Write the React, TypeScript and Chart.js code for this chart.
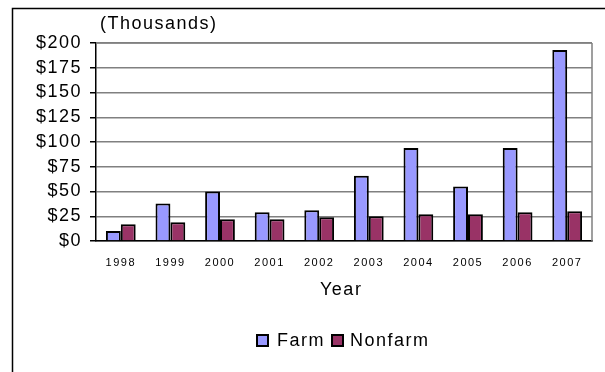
import React, { useEffect, useRef } from "react";
import { Chart, registerables } from "chart.js";

Chart.register(...registerables);

const years = ["1998", "1999", "2000", "2001", "2002", "2003", "2004", "2005", "2006", "2007"];
const farm = [10, 38, 50, 29, 31, 66, 94, 55, 94, 193];
const nonfarm = [17, 19, 22, 22, 24, 25, 27, 27, 29, 30];
const seriesNames = ["Farm", "Nonfarm"];
const seriesColors = ["#9999FF", "#993366"];
const yTicks = [0, 25, 50, 75, 100, 125, 150, 175, 200];
const unitLabel = "(Thousands)";
const xTitle = "Year";

const FONT = "'Liberation Sans', Arial, sans-serif";
const SPACING = "1.5px";

export default function App() {
  const ref = useRef<HTMLCanvasElement | null>(null);

  useEffect(() => {
    const canvas = ref.current!;
    const decor = {
      id: "decor",
      beforeDraw(chart: any) {
        chart.ctx.letterSpacing = SPACING;
      },
      beforeDatasetsDraw(chart: any) {
        const { ctx, chartArea } = chart;
        ctx.save();
        ctx.strokeStyle = "#808080";
        ctx.lineWidth = 1.5;
        ctx.beginPath();
        ctx.moveTo(chartArea.right, chartArea.top);
        ctx.lineTo(chartArea.right, chartArea.bottom);
        ctx.moveTo(chartArea.left, chartArea.top);
        ctx.lineTo(chartArea.right, chartArea.top);
        ctx.stroke();
        ctx.restore();
      },
      afterDraw(chart: any) {
        const ctx = chart.ctx;
        ctx.save();
        ctx.letterSpacing = SPACING;
        ctx.strokeStyle = "#000";
        ctx.lineWidth = 1.5;
        ctx.beginPath();
        ctx.moveTo(12.5, 372);
        ctx.lineTo(12.5, 8.5);
        ctx.lineTo(605, 8.5);
        ctx.stroke();
        ctx.fillStyle = "#000";
        ctx.textBaseline = "middle";
        ctx.textAlign = "left";
        ctx.font = `18px ${FONT}`;
        ctx.fillText(unitLabel, 100, 24);
        ctx.fillText(xTitle, 320, 290);
        const items = [
          { x: 257, tx: 277 },
          { x: 332, tx: 350 },
        ];
        items.forEach((it, i) => {
          ctx.fillStyle = seriesColors[i];
          ctx.fillRect(it.x, 335, 11, 11);
          ctx.strokeStyle = "#000";
          ctx.lineWidth = 2;
          ctx.strokeRect(it.x, 335, 11, 11);
          ctx.fillStyle = "#000";
          ctx.fillText(seriesNames[i], it.tx, 341);
        });
        ctx.restore();
      },
    };

    const chart = new Chart(canvas, {
      type: "bar",
      data: {
        labels: years,
        datasets: [
          {
            label: seriesNames[0],
            data: farm,
            backgroundColor: seriesColors[0],
            borderColor: "#000",
            borderWidth: 2,
            categoryPercentage: 0.6,
            barPercentage: 1,
          },
          {
            label: seriesNames[1],
            data: nonfarm,
            backgroundColor: seriesColors[1],
            borderColor: "#000",
            borderWidth: 2,
            categoryPercentage: 0.6,
            barPercentage: 1,
          },
        ],
      },
      options: {
        responsive: false,
        animation: false,
        events: [],
        layout: { padding: { left: 0, top: 43, right: 13, bottom: 0 } },
        plugins: {
          legend: { display: false },
          title: { display: false },
          tooltip: { enabled: false },
        },
        scales: {
          x: {
            grid: { display: false, drawTicks: false },
            border: { display: true, color: "#000", width: 1.5 },
            ticks: {
              color: "#000",
              font: { family: FONT, size: 11 },
              padding: 15,
              maxRotation: 0,
              autoSkip: false,
            },
            afterFit(scale: any) {
              scale.height = 131;
            },
          },
          y: {
            min: 0,
            max: 200,
            afterBuildTicks(scale: any) {
              scale.ticks = yTicks.map((v) => ({ value: v }));
            },
            grid: {
              color: "#808080",
              lineWidth: 1.5,
              tickLength: 6,
              tickColor: "#000",
              drawTicks: true,
            },
            border: { display: true, color: "#000", width: 1.5 },
            ticks: {
              color: "#000",
              font: { family: FONT, size: 18 },
              padding: 8,
              callback: (v: any) => "$" + v,
            },
            afterFit(scale: any) {
              scale.width = 96;
            },
          },
        },
      },
      plugins: [decor],
    });
    return () => chart.destroy();
  }, []);

  return (
    <div style={{ position: "fixed", left: 0, top: 0, width: 605, height: 372, background: "#fff" }}>
      <canvas ref={ref} width={605} height={372} style={{ width: 605, height: 372, display: "block" }} />
    </div>
  );
}
